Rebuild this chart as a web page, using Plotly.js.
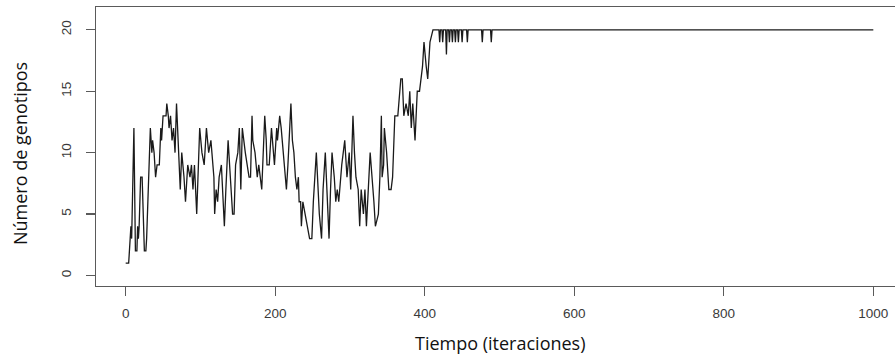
<!DOCTYPE html>
<html>
<head>
<meta charset="utf-8">
<script src="https://cdn.plot.ly/plotly-3.0.1.min.js"></script>
<style>html,body{margin:0;padding:0;background:#fff;}#chart{width:895px;height:360px;}</style>
</head>
<body>
<div id="chart"></div>
<script>
// Iteration (x) and number of genotypes (y) (vertices of the trace)
const iteracion = [0,4,6,7,8,11,13,15,16,17,18,20,22,24,25,27,28,33,35,36,38,40,42,45,47,48,50,54,55,57,58,60,62,64,66,68,71,73,75,78,80,83,86,88,90,92,95,99,102,105,108,111,114,116,118,119,121,123,125,128,132,134,137,140,143,145,147,150,152,154,156,160,165,167,169,170,173,176,178,182,184,186,188,189,192,194,195,199,202,203,206,208,211,213,215,217,221,223,225,227,229,231,232,234,235,237,240,242,246,249,251,255,257,259,262,264,267,269,272,274,276,279,281,283,285,289,293,296,299,301,304,306,308,311,313,315,318,320,322,327,330,332,334,338,340,342,343,345,346,349,352,355,357,360,364,365,368,370,372,375,378,380,382,384,387,390,393,397,399,402,404,407,411,419,420,421,423,424,425,428,429,430,432,433,434,436,437,438,440,441,442,444,445,446,449,450,451,456,457,458,476,477,478,488,489,490,1000];
const genotipos = [1,1,3,4,3,12,2,2,4,3,4,8,8,5,2,2,3,12,10,11,10,8,9,9,12,11,13,13,14,13,12,13,11,12,10,14,10,7,10,8,6,9,8,9,7,9,5,12,10,9,12,10,11,9,8,5,7,6,8,9,4,7,11,8,5,5,9,10,12,7,12,10,8,8,13,11,10,8,9,7,10,13,11,9,9,11,12,9,12,11,13,12,10,8,7,9,14,11,10,8,7,8,6,6,4,6,5,4,3,3,6,10,7,5,3,7,10,7,3,7,10,8,6,7,6,9,11,8,10,7,13,10,8,7,4,7,5,7,4,10,8,6,4,5,8,13,8,9,12,10,7,7,8,13,13,14,16,16,13,14,13,15,12,14,11,15,15,17,19,17,16,19,20,20,19,20,20,19,20,20,18,20,20,19,20,20,19,20,20,19,20,20,19,20,20,19,20,20,19,20,20,19,20,20,19,20,20];
const xTicks = [0,200,400,600,800,1000];
const yTicks = [0,5,10,15,20];
const xTitle = 'Tiempo (iteraciones)';
const yTitle = 'Número de genotipos';

const trace = {
  x: iteracion, y: genotipos, type: 'scatter', mode: 'lines',
  line: {color: '#1a1a1a', width: 1.3}, hoverinfo: 'skip'
};

const tickFont = {family: 'Liberation Sans, Arial, sans-serif', size: 13.5, color: '#3a3a3a'};
const titleFont = {family: 'Open Sans, sans-serif', size: 18, color: '#111'};
const layout = {
  width: 895, height: 360,
  margin: {l: 96, r: 0, t: 7, b: 74, pad: 0},
  paper_bgcolor: '#fff', plot_bgcolor: '#fff',
  showlegend: false,
  xaxis: {
    range: [-39.7, 1029], tickvals: xTicks, ticktext: xTicks.map(String),
    showgrid: false, zeroline: false, showline: true, mirror: true,
    linecolor: '#5a5a5a', linewidth: 1.3,
    ticks: 'outside', ticklen: 9, tickwidth: 1.2, tickcolor: '#5a5a5a',
    tickfont: tickFont, ticklabelstandoff: 5
  },
  yaxis: {
    range: [-0.86, 21.86], tickvals: yTicks, ticktext: yTicks.map(String),
    showgrid: false, zeroline: false, showline: true, mirror: false,
    linecolor: '#5a5a5a', linewidth: 1.3,
    ticks: 'outside', ticklen: 9, tickwidth: 1.2, tickcolor: '#5a5a5a',
    tickangle: -90, tickfont: tickFont, ticklabelstandoff: 9
  },
  annotations: [
    {text: xTitle, xref: 'paper', yref: 'paper', x: 0.5, y: 0, xanchor: 'center', yanchor: 'middle',
     xshift: 5, yshift: -57, showarrow: false, font: titleFont},
    {text: yTitle, xref: 'paper', yref: 'paper', x: 0, y: 0.5, xanchor: 'center', yanchor: 'middle',
     xshift: -76.5, yshift: -7, textangle: -90, showarrow: false, font: titleFont}
  ]
};

Plotly.newPlot('chart', [trace], layout, {staticPlot: true, displayModeBar: false});
</script>
</body>
</html>
